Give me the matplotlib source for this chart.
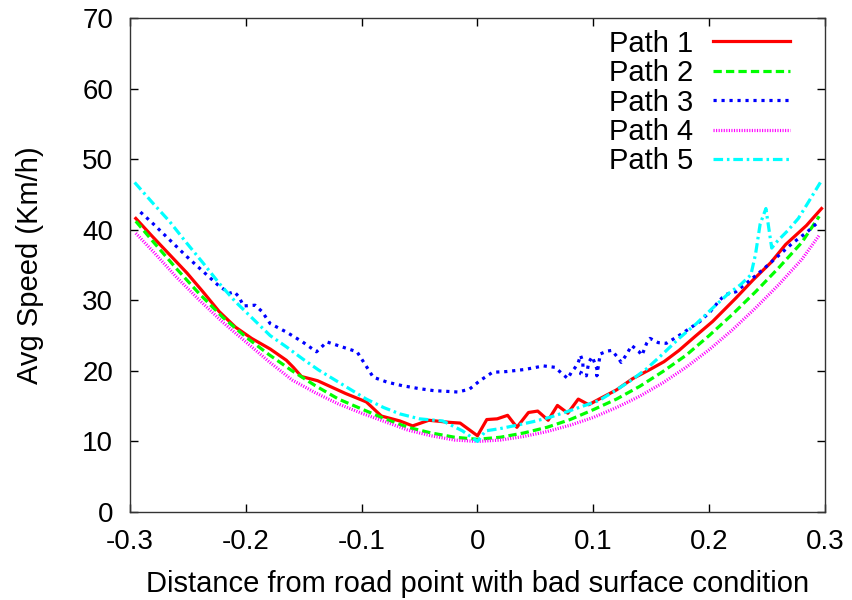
import matplotlib
matplotlib.use("Agg")
import matplotlib.pyplot as plt

plt.rcParams['font.family'] = ['Liberation Sans', 'DejaVu Sans']

# ---- data ----
grid_x = [-0.295, -0.28, -0.26, -0.24, -0.22, -0.20, -0.18, -0.16, -0.14, -0.12,
          -0.10, -0.08, -0.06, -0.04, -0.02, 0.0, 0.02, 0.04, 0.06, 0.08,
          0.10, 0.12, 0.14, 0.16, 0.18, 0.20, 0.22, 0.24, 0.26, 0.28, 0.295]

path2_y = [41.2, 38.3, 34.5, 30.9, 27.6, 24.8, 22.3, 20.0, 17.9, 16.0,
           14.6, 13.2, 12.0, 11.2, 10.6, 10.3, 10.6, 11.2, 12.0, 13.1,
           14.5, 16.0, 17.8, 19.9, 22.2, 25.0, 28.0, 31.2, 34.6, 38.2, 41.9]

path4_y = [39.5, 36.9, 33.3, 30.0, 26.9, 24.1, 21.3, 18.7, 16.9, 15.3,
           14.0, 12.8, 11.6, 10.8, 10.2, 10.0, 10.2, 10.7, 11.4, 12.3,
           13.4, 14.8, 16.4, 18.3, 20.5, 23.0, 25.8, 28.9, 32.2, 35.8, 39.2]

path1_x = [-0.295, -0.281, -0.266, -0.251, -0.237, -0.223, -0.209, -0.195, -0.179,
           -0.165, -0.159, -0.152, -0.138, -0.130, -0.114, -0.096, -0.083, -0.067,
           -0.056, -0.042, -0.024, -0.015, 0.0, 0.008, 0.017, 0.026, 0.034, 0.044,
           0.052, 0.061, 0.069, 0.078, 0.087, 0.096, 0.105, 0.120, 0.134, 0.149,
           0.161, 0.174, 0.188, 0.203, 0.223, 0.238, 0.253, 0.266, 0.284, 0.297]
path1_y = [41.6, 39.1, 36.5, 33.9, 31.2, 28.4, 26.2, 24.6, 23.1,
           21.5, 20.5, 19.2, 18.6, 18.0, 16.8, 15.6, 13.6, 12.9,
           12.2, 13.0, 12.7, 12.6, 10.8, 13.1, 13.2, 13.7, 12.0, 14.1,
           14.3, 13.0, 15.1, 14.0, 16.0, 15.2, 16.0, 17.3, 18.9, 20.2,
           21.3, 22.9, 24.9, 27.0, 30.3, 32.9, 35.3, 37.9, 40.6, 43.0]

path3_x = [-0.291, -0.281, -0.266, -0.251, -0.237, -0.223, -0.214, -0.210, -0.206,
           -0.202, -0.192, -0.186, -0.179, -0.165, -0.151, -0.139, -0.130, -0.117,
           -0.104, -0.090, -0.078, -0.065, -0.051, -0.038, -0.027, -0.017, -0.007,
           0.002, 0.013, 0.025, 0.041, 0.057, 0.067, 0.071, 0.078, 0.081, 0.084,
           0.087, 0.089, 0.091, 0.091, 0.089, 0.094, 0.096, 0.099, 0.102, 0.104,
           0.103, 0.106, 0.112, 0.116, 0.122, 0.124, 0.129, 0.133, 0.139, 0.142,
           0.146, 0.149, 0.156, 0.163, 0.173, 0.183, 0.192, 0.201, 0.209, 0.214,
           0.223, 0.235, 0.246, 0.259, 0.272, 0.284, 0.295]
path3_y = [42.5, 41.0, 38.6, 36.2, 34.1, 32.0, 31.0, 31.2, 30.5,
           29.2, 29.3, 28.4, 26.7, 25.5, 24.1, 22.7, 24.1, 23.4,
           22.7, 19.1, 18.4, 17.9, 17.5, 17.2, 17.1, 17.0, 17.4,
           18.6, 19.8, 19.9, 20.2, 20.7, 20.5, 19.9, 18.9, 19.8, 20.4,
           21.2, 22.2, 21.2, 20.3, 19.6, 19.3, 21.2, 22.0, 20.8, 19.8,
           19.3, 22.4, 22.8, 22.9, 21.7, 21.2, 22.4, 23.6, 22.8, 22.2,
           23.9, 24.6, 24.0, 23.9, 24.9, 26.0, 27.0, 28.4, 30.0, 30.8,
           31.2, 32.8, 34.3, 36.2, 38.1, 39.6, 41.2]

path5_x = [-0.296, -0.281, -0.266, -0.251, -0.237, -0.223, -0.209, -0.194, -0.179,
           -0.165, -0.151, -0.137, -0.123, -0.109, -0.096, -0.081, -0.067, -0.050,
           -0.030, -0.013, 0.0, 0.007, 0.019, 0.034, 0.048, 0.062, 0.077, 0.091,
           0.105, 0.119, 0.133, 0.146, 0.160, 0.174, 0.189, 0.203, 0.217, 0.227,
           0.236, 0.240, 0.244, 0.249, 0.254, 0.259, 0.268, 0.277, 0.286, 0.296]
path5_y = [46.7, 43.9, 41.2, 38.1, 35.3, 32.4, 29.8, 27.4, 25.0,
           23.4, 21.7, 20.1, 18.7, 17.3, 16.0, 14.8, 13.9, 13.2,
           12.9, 11.5, 10.0, 11.5, 11.8, 12.3, 12.8, 13.4, 14.2, 15.0,
           15.8, 17.2, 18.7, 20.3, 22.4, 24.6, 26.7, 28.9, 31.0, 32.2,
           33.6, 36.5, 40.8, 43.0, 37.4, 38.4, 39.9, 41.6, 44.0, 46.7]

labels = ["Path 1", "Path 2", "Path 3", "Path 4", "Path 5"]
x_ticks = [-0.3, -0.2, -0.1, 0, 0.1, 0.2, 0.3]
x_ticklabels = ["-0.3", "-0.2", "-0.1", "0", "0.1", "0.2", "0.3"]
y_ticks = [0, 10, 20, 30, 40, 50, 60, 70]

# ---- figure ----
fig = plt.figure(figsize=(8.53, 6.0), dpi=100)
ax = fig.add_axes([130/853, 1-512/600, 695/853, 494/600])

lw = 2.3
ax.plot(path1_x, path1_y, color='#ff0000', lw=lw, ls='-', label=labels[0])
ax.plot(grid_x, path2_y, color='#00ff00', lw=lw, ls=(0, (2.6, 1.3)), label=labels[1])
ax.plot(path3_x, path3_y, color='#0000ff', lw=lw, ls=(0, (1.0, 1.5)), label=labels[2])
ax.plot(grid_x, path4_y, color='#ff00ff', lw=lw, ls=(0, (0.35, 0.45)), label=labels[3])
ax.plot(path5_x, path5_y, color='#00ffff', lw=lw, ls=(0, (3.0, 1.2, 0.8, 1.2)), label=labels[4])

ax.set_xlim(-0.3, 0.3)
ax.set_ylim(0, 70)
ax.set_xticks(x_ticks)
ax.set_xticklabels(x_ticklabels)
ax.set_yticks(y_ticks)
ax.tick_params(direction='in', length=6, width=1, top=True, right=True,
               labelsize=20)
ax.tick_params(axis='x', pad=12)
ax.tick_params(axis='y', pad=12)
for s in ax.spines.values():
    s.set_linewidth(1.0)
    s.set_color('#333333')

ax.set_xlabel("Distance from road point with bad surface condition", fontsize=21)
ax.set_ylabel("Avg Speed (Km/h)", fontsize=21)
ax.xaxis.set_label_coords(0.5, -0.118)
ax.yaxis.set_label_coords(-0.124, 0.5)

leg = ax.legend(loc='upper right', frameon=False, fontsize=21, markerfirst=False,
                handlelength=2.65, handletextpad=0.68, labelspacing=0.05,
                borderaxespad=0.0, bbox_to_anchor=(0.9665, 1.0))

fig.savefig("out.png", dpi=100)
